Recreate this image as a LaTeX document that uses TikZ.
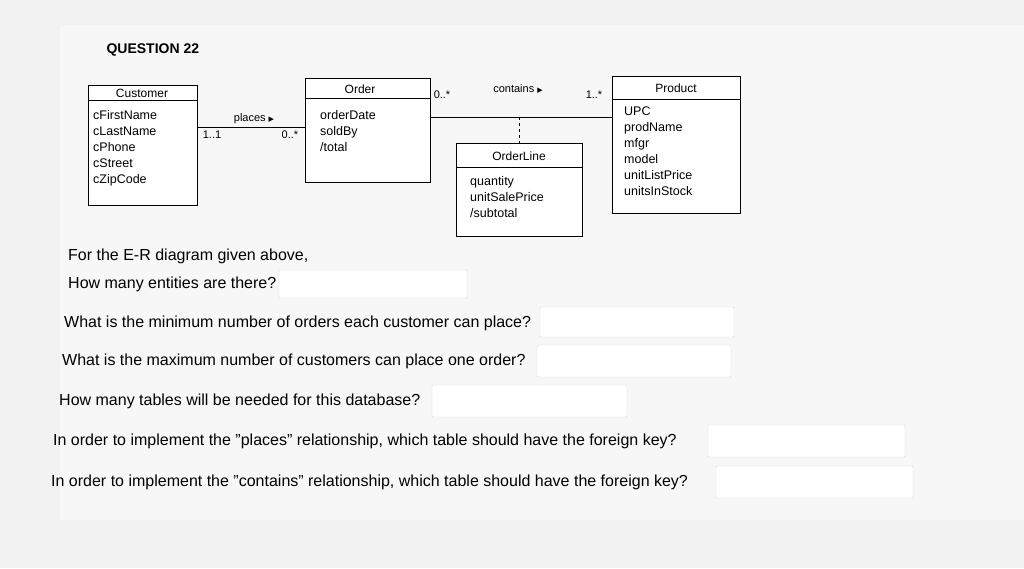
\documentclass[tikz,border=0pt]{standalone}
\usepackage{fontspec}
\setmainfont{Liberation Sans}
\newfontfamily\symf{DejaVu Sans}
\begin{document}
\begin{tikzpicture}[x=1pt,y=-1pt,
  ent/.style={draw=black,line width=0.8pt,fill=white},
  att/.style={anchor=west,font=\fontsize{12.5}{16}\selectfont,align=left,inner sep=0pt},
  ttl/.style={font=\fontsize{12}{13}\selectfont,inner sep=0pt},
  lbl/.style={font=\fontsize{11}{12}\selectfont,inner sep=0pt},
  q/.style={anchor=west,font=\fontsize{16}{18}\selectfont,inner sep=0pt},
  inbox/.style={draw=black!15,fill=white,rounded corners=1pt}]
\fill[black!5] (0,0) rectangle (1024,568);
\useasboundingbox (0,0) rectangle (1024,568);
\fill[white!97!black] (60,25) rectangle (1024,520);
\node[anchor=west,font=\bfseries\fontsize{14}{16}\selectfont] (qn) at (103,50) {QUESTION 22};
% Customer
\draw[ent] (88,85) rectangle (197,205); \draw (88,100) -- (197,100);
\node[ttl] (cust) at (142,93) {Customer};
\node[att,anchor=north west] (custa) at (93,110) {cFirstName\\cLastName\\cPhone\\cStreet\\cZipCode};
\coordinate (cr) at (197,127);
% Order
\draw[ent] (305,78) rectangle (430,182); \draw (305,98) -- (430,98);
\node[ttl] (ord) at (360,89) {Order};
\node[att,anchor=north west] (orda) at (320,110) {orderDate\\soldBy\\/total};
\coordinate (ol) at (305,127); \coordinate (orr) at (430,117);
% Product
\draw[ent] (612,76) rectangle (740,213); \draw (612,99) -- (740,99);
\node[ttl] (prod) at (676,88) {Product};
\node[att,anchor=north west] (proda) at (624,107) {UPC\\prodName\\mfgr\\model\\unitListPrice\\unitsInStock};
\coordinate (pl) at (612,117);
% OrderLine
\draw[ent] (456,143) rectangle (582,236); \draw (456,167) -- (582,167);
\node[ttl] (ol2) at (519,156) {OrderLine};
\node[att,anchor=north west] (ola) at (470,176) {quantity\\unitSalePrice\\/subtotal};
\coordinate (olt) at (519,143); \coordinate (mid) at (519,117);
% connectors
\draw[line width=0.7pt] (cr) -- (ol);
\draw[line width=0.7pt] (orr) -- (pl);
\draw[dashed,line width=0.7pt] (mid) -- (olt);
\node[lbl] (pl1) at (254,119) {places {\symf\scriptsize ▶}};
\node[lbl] (m1) at (212,135) {1..1};
\node[lbl] (m2) at (290,135) {0..*};
\node[lbl] (m3) at (442,95) {0..*};
\node[lbl] (ct) at (518,89) {contains {\symf\scriptsize ▶}};
\node[lbl] (m4) at (594,95) {1..*};
% questions
\node[q] (t0) at (68,256) {For the E-R diagram given above,};
\node[q] (t1) at (68,284) {How many entities are there?};
\draw[inbox] (279,270) rectangle (467,298);
\node[q] (t2) at (64,323) {What is the minimum number of orders each customer can place?};
\draw[inbox] (540,307) rectangle (734,337);
\node[q] (t3) at (62,361) {What is the maximum number of customers can place one order?};
\draw[inbox] (537,345) rectangle (731,377);
\node[q] (t4) at (59,401) {How many tables will be needed for this database?};
\draw[inbox] (432,385) rectangle (627,417);
\node[q] (t5) at (53,441) {In order to implement the \symbol{34}places\symbol{34} relationship, which table should have the foreign key?};
\draw[inbox] (708,425) rectangle (905,457);
\node[q] (t6) at (51,482) {In order to implement the \symbol{34}contains\symbol{34} relationship, which table should have the foreign key?};
\draw[inbox] (716,466) rectangle (913,498);
\end{tikzpicture}
\end{document}
